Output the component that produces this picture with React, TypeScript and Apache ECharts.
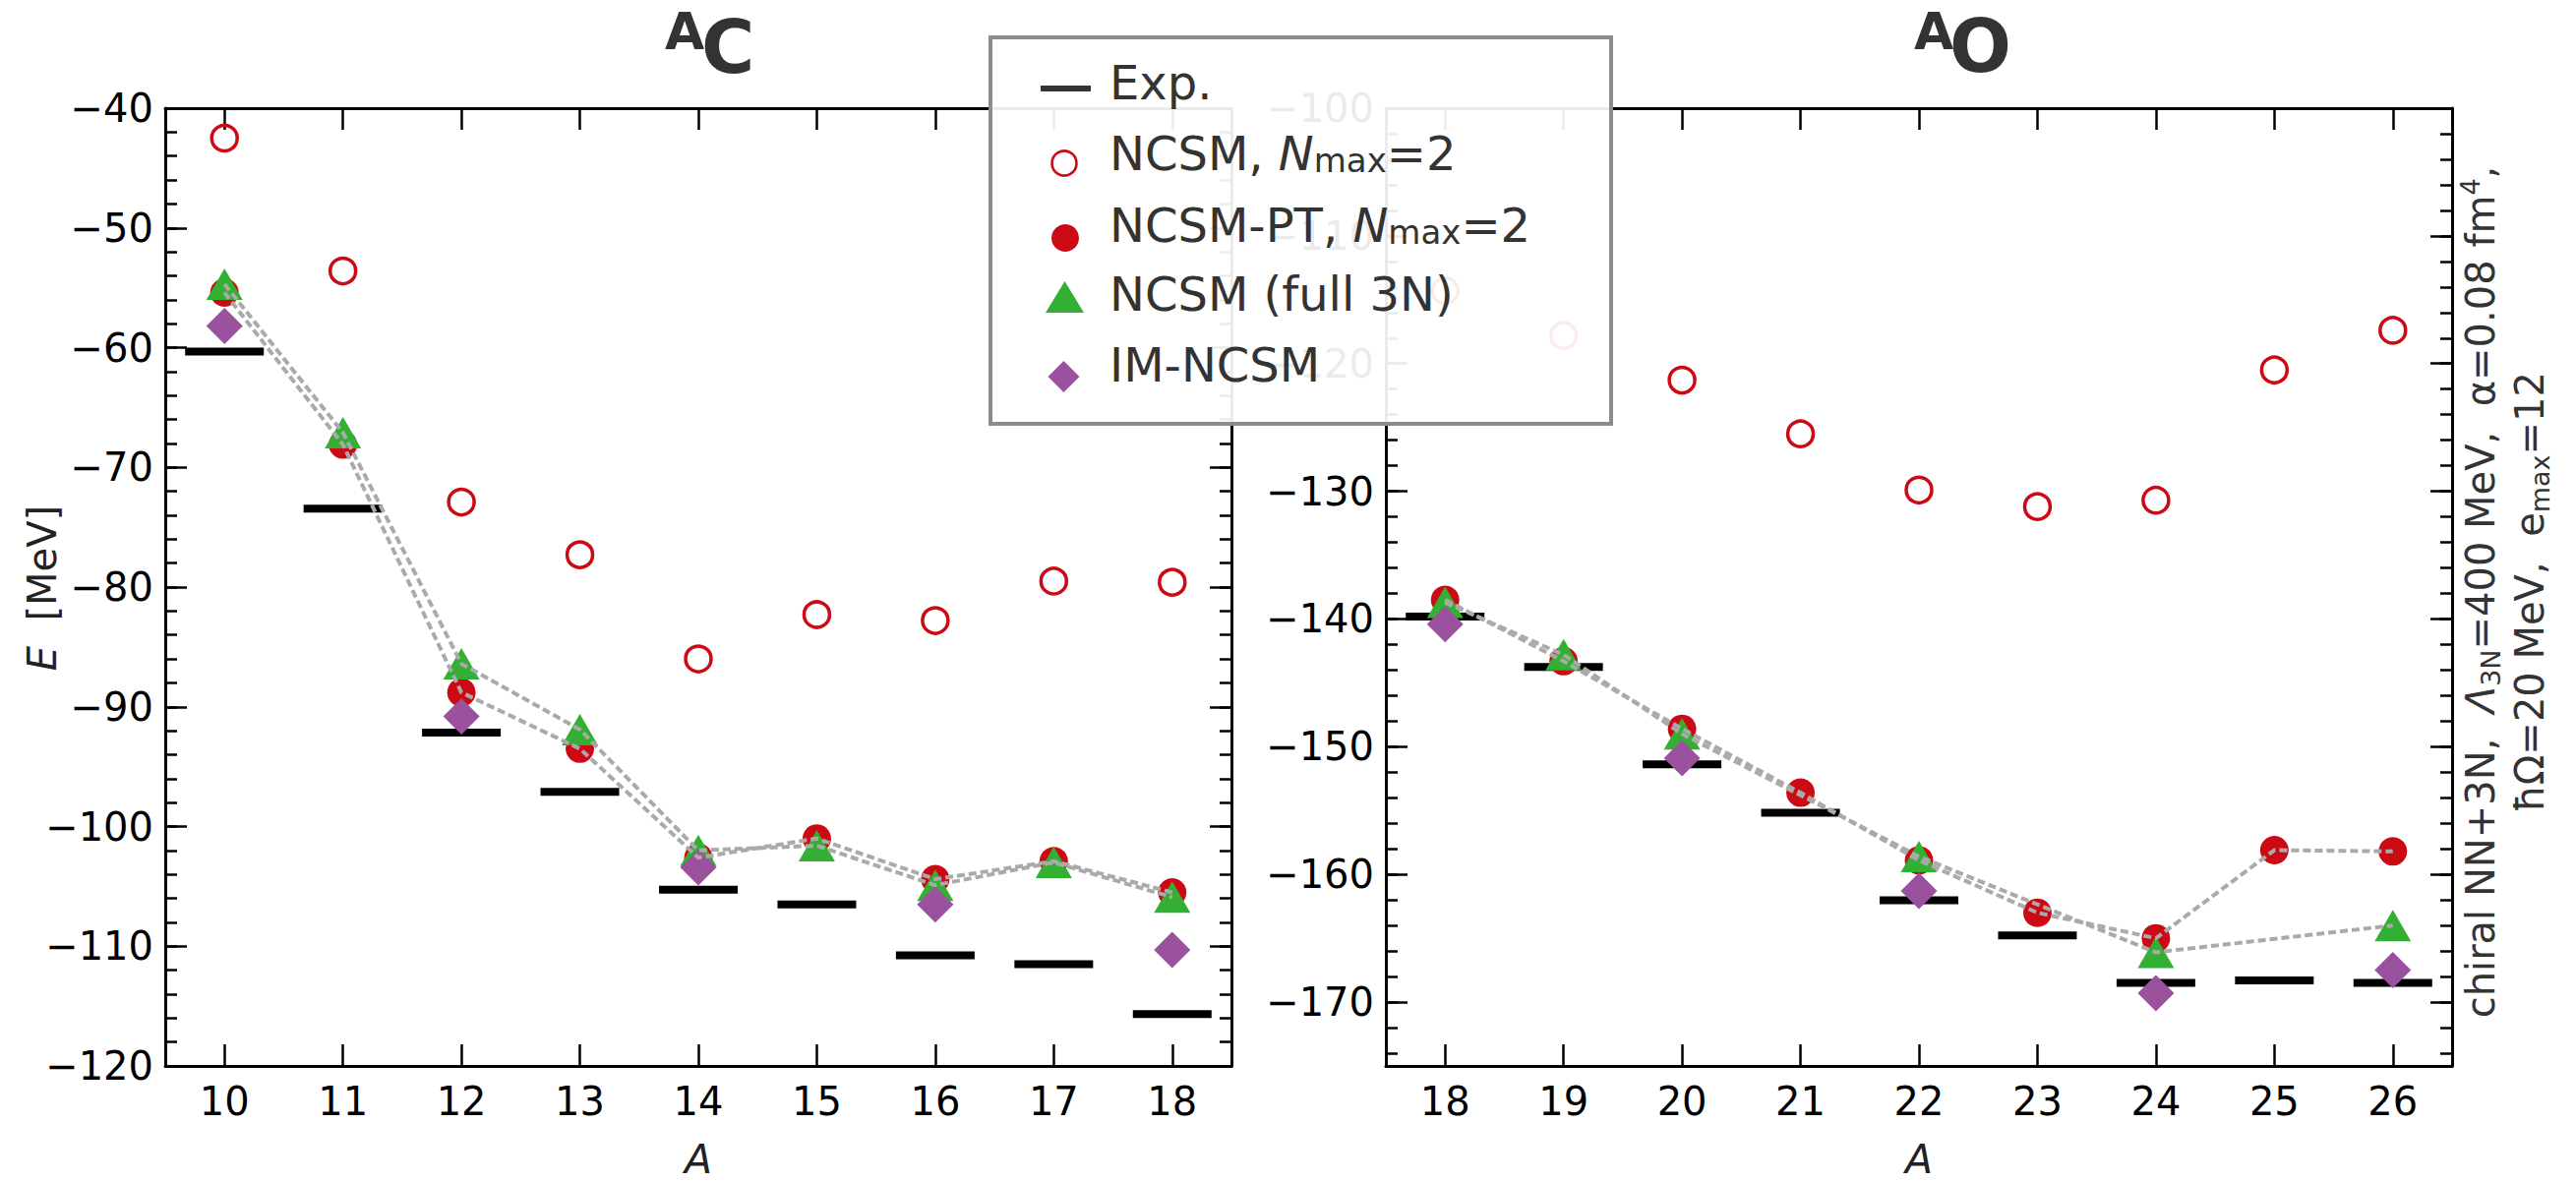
import React, { useEffect, useRef } from "react";
import * as echarts from "echarts";

// ---------- data ----------
const C_A = [10, 11, 12, 13, 14, 15, 16, 17, 18];
const C_EXP = [-60.32, -73.44, -92.16, -97.11, -105.28, -106.5, -110.75, -111.49, -115.67];
const C_NCSM = [-42.5, -53.6, -72.9, -77.3, -86.0, -82.3, -82.8, -79.5, -79.6];
const C_PT = [-55.4, -68.1, -88.8, -93.5, -102.6, -101.0, -104.4, -102.9, -105.5];
const C_FULL = [-54.7, -67.1, -86.4, -91.9, -102.0, -101.6, -104.9, -103.0, -105.9];
const C_IM = [-58.2, null, -90.8, null, -103.4, null, -106.5, null, -110.3];

const O_A = [18, 19, 20, 21, 22, 23, 24, 25, 26];
const O_EXP = [-139.81, -143.76, -151.37, -155.18, -162.03, -164.77, -168.5, -168.3, -168.5];
const O_NCSM = [-114.3, -117.8, -121.3, -125.5, -129.9, -131.2, -130.7, -120.5, -117.4];
const O_PT = [-138.5, -143.3, -148.6, -153.6, -158.9, -163.0, -165.0, -158.1, -158.2];
const O_FULL = [-138.7, -142.8, -149.0, null, -158.6, null, -166.1, null, -164.0];
const O_IM = [-140.4, null, -150.9, null, -161.3, null, -169.3, null, -167.5];

const C_Y_MAJOR = [-120, -110, -100, -90, -80, -70, -60, -50, -40];
const O_Y_MAJOR = [-170, -160, -150, -140, -130, -120, -110, -100];

const FONT = "'DejaVu Sans', sans-serif";
const RED = "#cc0a14";
const GREEN = "#33b033";
const PURPLE = "#9a529e";
const GREY_LINE = "#aaaaaa";

function minorTicks(min: number, max: number, step: number) {
  const out: number[] = [];
  for (let v = min; v <= max + 1e-9; v += step) out.push(Math.round(v * 100) / 100);
  return out;
}

function xAxes(grid: number, cats: number[]) {
  const common = {
    type: "category",
    gridIndex: grid,
    data: cats.map(String),
    boundaryGap: true,
    axisLine: { show: true, onZero: false, lineStyle: { color: "#000", width: 3 } },
    axisTick: { show: true, inside: true, alignWithLabel: true, length: 22, lineStyle: { color: "#000", width: 2.5 } },
    splitLine: { show: false },
  };
  return [
    {
      ...common,
      position: "bottom",
      axisLabel: { show: true, interval: 0, fontSize: 40, fontFamily: FONT, color: "#000", margin: 16 },
    },
    { ...common, position: "top", axisLabel: { show: false } },
  ];
}

function yAxes(grid: number, min: number, max: number, major: number[], minor: number[]) {
  const line = { color: "#000", width: 3 };
  const tick = { color: "#000", width: 2.5 };
  const base = { type: "value", gridIndex: grid, min, max, splitLine: { show: false } };
  return [
    {
      ...base,
      position: "left",
      axisLine: { show: true, onZero: false, lineStyle: line },
      axisTick: { show: true, inside: true, length: 22, customValues: major, lineStyle: tick },
      axisLabel: {
        show: true,
        customValues: major,
        formatter: (v: number) => String(v).replace("-", "\u2212"),
        fontSize: 40,
        fontFamily: FONT,
        color: "#000",
        margin: 12,
      },
    },
    {
      ...base,
      position: "left",
      axisLine: { show: false },
      axisTick: { show: true, inside: true, length: 12, customValues: minor, lineStyle: tick },
      axisLabel: { show: false },
    },
    {
      ...base,
      position: "right",
      axisLine: { show: true, onZero: false, lineStyle: line },
      axisTick: { show: true, inside: true, length: 22, customValues: major, lineStyle: tick },
      axisLabel: { show: false },
    },
    {
      ...base,
      position: "right",
      axisLine: { show: false },
      axisTick: { show: true, inside: true, length: 12, customValues: minor, lineStyle: tick },
      axisLabel: { show: false },
    },
  ];
}

function pts(arr: (number | null)[]) {
  const out: [number, number][] = [];
  arr.forEach((v, i) => {
    if (v !== null && v !== undefined) out.push([i, v]);
  });
  return out;
}

function panelSeries(xi: number, yi: number, exp: number[], ncsm: number[], pt: (number | null)[], full: (number | null)[], im: (number | null)[]) {
  const ax = { xAxisIndex: xi, yAxisIndex: yi, silent: true };
  const dashed = { color: GREY_LINE, width: 4, type: [8, 4], opacity: 1 };
  return [
    { ...ax, type: "scatter", name: "Exp.", symbol: "rect", symbolSize: [80, 8], itemStyle: { color: "#000", opacity: 1 }, data: pts(exp) },
    { ...ax, type: "line", symbol: "none", showSymbol: false, connectNulls: true, lineStyle: dashed, data: pt },
    { ...ax, type: "line", symbol: "none", showSymbol: false, connectNulls: true, lineStyle: dashed, data: full },
    {
      ...ax,
      type: "scatter",
      symbol: "circle",
      symbolSize: 26,
      itemStyle: { color: "rgba(255,255,255,0)", borderColor: RED, borderWidth: 3.5, opacity: 1 },
      data: pts(ncsm),
    },
    { ...ax, type: "scatter", symbol: "circle", symbolSize: 29, itemStyle: { color: RED, opacity: 1 }, data: pts(pt) },
    { ...ax, type: "scatter", symbol: "triangle", symbolSize: [37, 32], itemStyle: { color: GREEN, opacity: 1 }, data: pts(full) },
    { ...ax, type: "scatter", symbol: "diamond", symbolSize: [37, 37], itemStyle: { color: PURPLE, opacity: 1 }, data: pts(im) },
  ];
}

function txt(x: number, y: number, text: string, extra: any = {}, rich: any = undefined, rotation = 0, z = 50) {
  const style: any = {
    text,
    fontSize: 40,
    fontFamily: FONT,
    fill: "#000",
    align: "center",
    textAlign: "center",
    verticalAlign: "middle",
    textVerticalAlign: "middle",
    ...extra,
  };
  if (rich) style.rich = rich;
  return { type: "text", x, y, rotation, z, style };
}

function buildGraphic() {
  const g: any[] = [];
  // titles
  g.push(txt(676, 32, "A", { fontSize: 52, fontWeight: "bold", fill: "#333", align: "left", textAlign: "left" }));
  g.push(txt(713, 48, "C", { fontSize: 74, fontWeight: "bold", fill: "#333", align: "left", textAlign: "left" }));
  g.push(txt(1946, 32, "A", { fontSize: 52, fontWeight: "bold", fill: "#333", align: "left", textAlign: "left" }));
  g.push(txt(1982, 47, "O", { fontSize: 74, fontWeight: "bold", fill: "#333", align: "left", textAlign: "left" }));

  // axis titles
  g.push(txt(710, 1179, "A", { fontSize: 41, fontStyle: "italic", fill: "#222" }));
  g.push(txt(1951, 1179, "A", { fontSize: 41, fontStyle: "italic", fill: "#222" }));
  g.push(
    txt(
      43,
      598,
      "{it|E}  [MeV]",
      { fill: "#222" },
      { it: { fontStyle: "italic", fontSize: 40, fontFamily: FONT, fill: "#222", color: "#222" } },
      Math.PI / 2
    )
  );

  // right-side annotation
  const annRich = {
    it: { fontStyle: "italic", fontSize: 40, lineHeight: 48, fontFamily: FONT, fill: "#333", color: "#333" },
    sub: { fontSize: 27, lineHeight: 27, verticalAlign: "bottom", fontFamily: FONT, fill: "#333", color: "#333" },
    sup: { fontSize: 27, lineHeight: 27, verticalAlign: "top", fontFamily: FONT, fill: "#333", color: "#333" },
  };
  g.push(
    txt(2522, 602, "chiral NN+3N,  {it|Λ}{sub|3N}=400 MeV,  α=0.08 fm{sup|4},", { fill: "#333", lineHeight: 48 }, annRich, Math.PI / 2)
  );
  g.push(txt(2572, 602, "ħΩ=20 MeV,  e{sub|max}=12", { fill: "#333", lineHeight: 48 }, annRich, Math.PI / 2));

  // legend
  const Z = 100;
  g.push({
    type: "rect",
    z: Z,
    shape: { x: 1007, y: 38, width: 631, height: 393 },
    style: { fill: "rgba(255,255,255,0.92)", stroke: "#8c8c8c", lineWidth: 4 },
  });
  g.push({ type: "rect", z: Z + 1, shape: { x: 1058, y: 87, width: 51, height: 6 }, style: { fill: "#333" } });
  g.push({ type: "circle", z: Z + 1, shape: { cx: 1082, cy: 166, r: 12.5 }, style: { fill: "none", stroke: RED, lineWidth: 2.6 } });
  g.push({ type: "circle", z: Z + 1, shape: { cx: 1083, cy: 242, r: 14 }, style: { fill: RED } });
  g.push({
    type: "polygon",
    z: Z + 1,
    shape: { points: [[1063, 318], [1102, 318], [1082.5, 286]] },
    style: { fill: GREEN },
  });
  g.push({
    type: "polygon",
    z: Z + 1,
    shape: { points: [[1081.5, 367], [1097.5, 383], [1081.5, 399], [1065.5, 383]] },
    style: { fill: PURPLE },
  });
  const legRich = {
    it: { fontStyle: "italic", fontSize: 48, lineHeight: 48, fontFamily: FONT, fill: "#333", color: "#333" },
    sub: { fontSize: 34, lineHeight: 34, verticalAlign: "bottom", fontFamily: FONT, fill: "#333", color: "#333" },
  };
  const legStyle = { fontSize: 48, lineHeight: 48, fill: "#333", align: "left", textAlign: "left" };
  g.push(txt(1128, 84, "Exp.", legStyle, undefined, 0, Z + 2));
  g.push(txt(1128, 156, "NCSM, {it|N}{sub|max}=2", legStyle, legRich, 0, Z + 2));
  g.push(txt(1128, 229, "NCSM-PT, {it|N}{sub|max}=2", legStyle, legRich, 0, Z + 2));
  g.push(txt(1128, 299, "NCSM (full 3N)", legStyle, undefined, 0, Z + 2));
  g.push(txt(1128, 371, "IM-NCSM", legStyle, undefined, 0, Z + 2));
  return g;
}

export default function App() {
  const ref = useRef<HTMLDivElement>(null);
  useEffect(() => {
    if (!ref.current) return;
    const chart = echarts.init(ref.current, null, { renderer: "svg" });
    const option: any = {
      animation: false,
      backgroundColor: "#ffffff",
      textStyle: { fontFamily: FONT },
      grid: [
        { left: 168, top: 110, width: 1084, height: 974, containLabel: false },
        { left: 1409, top: 110, width: 1084, height: 974, containLabel: false },
      ],
      xAxis: [...xAxes(0, C_A), ...xAxes(1, O_A)],
      yAxis: [
        ...yAxes(0, -120, -40, C_Y_MAJOR, minorTicks(-118, -42, 2)),
        ...yAxes(1, -175, -100, O_Y_MAJOR, minorTicks(-174, -102, 2)),
      ],
      series: [
        ...panelSeries(0, 0, C_EXP, C_NCSM, C_PT, C_FULL, C_IM),
        ...panelSeries(2, 4, O_EXP, O_NCSM, O_PT, O_FULL, O_IM),
      ],
      graphic: { elements: buildGraphic() },
    };
    chart.setOption(option);
    return () => chart.dispose();
  }, []);
  return (
    <div
      ref={ref}
      style={{ position: "absolute", left: 0, top: 0, width: "2619px", height: "1202px", background: "#fff" }}
    />
  );
}
